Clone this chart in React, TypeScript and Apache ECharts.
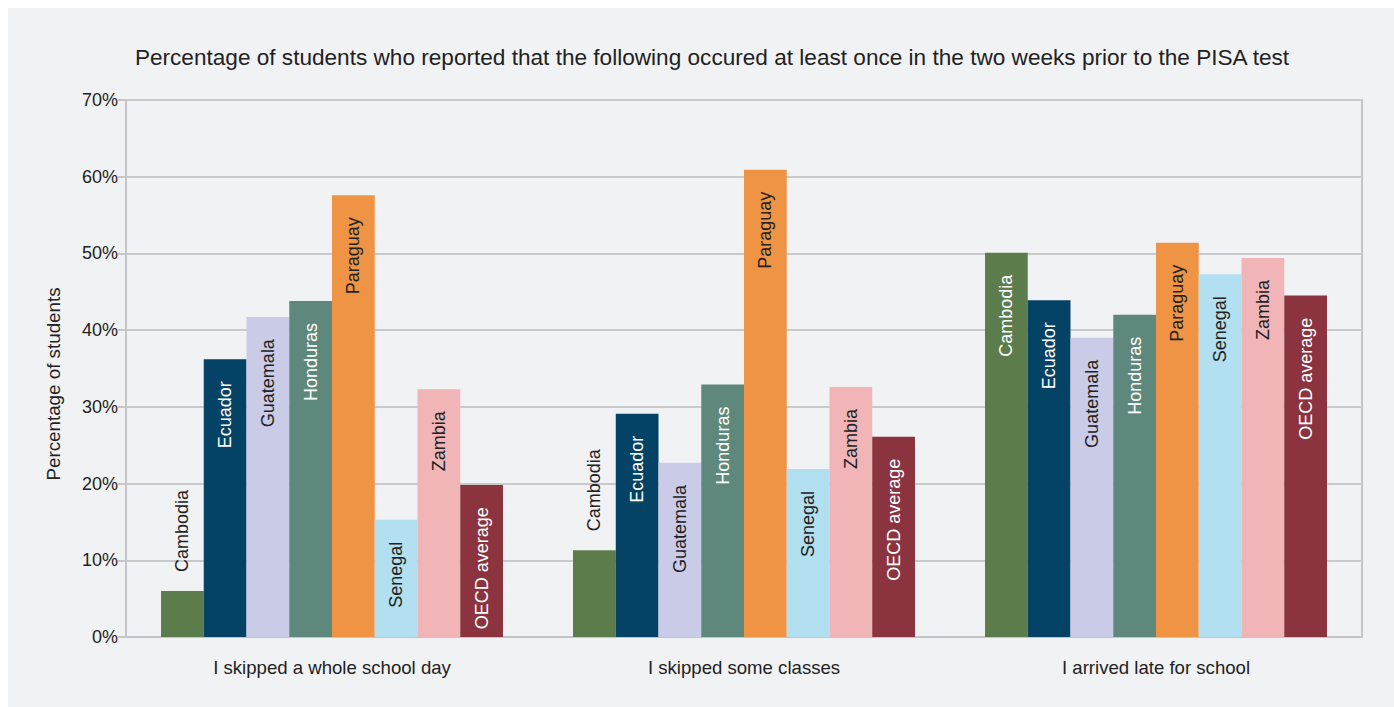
import React, { useEffect, useRef } from "react";
import * as echarts from "echarts";

const categories = ["I skipped a whole school day", "I skipped some classes", "I arrived late for school"];
const countries = ["Cambodia", "Ecuador", "Guatemala", "Honduras", "Paraguay", "Senegal", "Zambia", "OECD average"];
const cambodia = [6.0, 11.3, 50.1];
const ecuador = [36.2, 29.1, 43.9];
const guatemala = [41.7, 22.7, 39.0];
const honduras = [43.8, 32.9, 42.0];
const paraguay = [57.6, 60.9, 51.4];
const senegal = [15.3, 21.9, 47.3];
const zambia = [32.3, 32.6, 49.4];
const oecd = [19.8, 26.1, 44.5];
const yTicks = [0, 10, 20, 30, 40, 50, 60, 70];
const titleText = "Percentage of students who reported that the following occured at least once in the two weeks prior to the PISA test";
const yAxisTitle = "Percentage of students";

const seriesValues = [cambodia, ecuador, guatemala, honduras, paraguay, senegal, zambia, oecd];
const colors = ["#5c7d4b", "#044266", "#cacbe6", "#5f887d", "#ef9345", "#b3e0f0", "#f1b5b8", "#8b333e"];
const labelColors = ["#ffffff", "#ffffff", "#222222", "#ffffff", "#222222", "#222222", "#222222", "#ffffff"];

const FONT = "'Liberation Sans', Arial, Helvetica, sans-serif";

export default function App() {
  const ref = useRef<HTMLDivElement>(null);
  useEffect(() => {
    if (!ref.current) return;
    const chart = echarts.init(ref.current, null, { renderer: "svg" });
    const gridTop = 100;
    const gridBottom = 70;
    const height = 707;
    const plotH = height - gridTop - gridBottom;
    const yMax = yTicks[yTicks.length - 1];
    const pxPer = plotH / yMax;
    const canvas = document.createElement("canvas");
    const ctx = canvas.getContext("2d")!;
    ctx.font = `18px ${FONT}`;

    const series = countries.map((name, si) => ({
      name,
      type: "bar",
      barGap: "0%",
      barCategoryGap: "17%",
      itemStyle: { color: colors[si] },
      data: seriesValues[si].map((v) => {
        const w = ctx.measureText(name).width;
        const fits = v * pxPer - 22 - w - 6 > 0;
        return {
          value: v,
          label: fits
            ? {
                show: true,
                position: "insideTop",
                distance: 22,
                rotate: 90,
                align: "right",
                verticalAlign: "middle",
                color: labelColors[si],
                fontSize: 18,
                fontFamily: FONT,
                formatter: name,
              }
            : {
                show: true,
                position: "top",
                distance: 19,
                rotate: 90,
                align: "left",
                verticalAlign: "middle",
                color: "#222222",
                fontSize: 18,
                fontFamily: FONT,
                formatter: name,
              },
        };
      }),
    }));

    chart.setOption({
      animation: false,
      backgroundColor: "transparent",
      textStyle: { fontFamily: FONT },
      graphic: [
        {
          type: "rect",
          shape: { x: 8, y: 8, width: 1394, height: 707 },
          style: { fill: "#f1f2f4" },
          z: -10,
          silent: true,
        },
        {
          type: "text",
          x: 712,
          y: 57,
          style: {
            text: titleText,
            fill: "#222222",
            fontSize: 22.6,
            fontFamily: FONT,
            align: "center",
            verticalAlign: "middle",
          },
        },
        {
          type: "text",
          x: 53,
          y: 384,
          rotation: Math.PI / 2,
          style: {
            text: yAxisTitle,
            fill: "#222222",
            fontSize: 18.8,
            fontFamily: FONT,
            align: "center",
            verticalAlign: "middle",
          },
        },
      ],
      grid: {
        left: 126,
        right: 32,
        top: gridTop,
        bottom: gridBottom,
        show: true,
        borderColor: "#c4c5c8",
        borderWidth: 2,
        backgroundColor: "transparent",
      },
      xAxis: {
        type: "category",
        data: categories,
        axisTick: { show: false },
        axisLine: { show: true, lineStyle: { color: "#c4c5c8", width: 2 } },
        axisLabel: { color: "#222222", fontSize: 18.6, margin: 21, fontFamily: FONT },
      },
      yAxis: {
        type: "value",
        min: 0,
        max: yMax,
        interval: 10,
        axisLine: { show: true, lineStyle: { color: "#c4c5c8", width: 2 } },
        axisTick: { show: true, length: 8, lineStyle: { color: "#c4c5c8", width: 2 } },
        axisLabel: { color: "#222222", fontSize: 18, margin: 8, fontFamily: FONT, formatter: "{value}%" },
        splitLine: { show: true, lineStyle: { color: "#c8c9cc", width: 2 } },
      },
      series,
    });
    return () => chart.dispose();
  }, []);
  return (
    <div
      ref={ref}
      style={{ position: "absolute", left: 0, top: 0, width: 1394, height: 707, background: "#ffffff" }}
    />
  );
}
